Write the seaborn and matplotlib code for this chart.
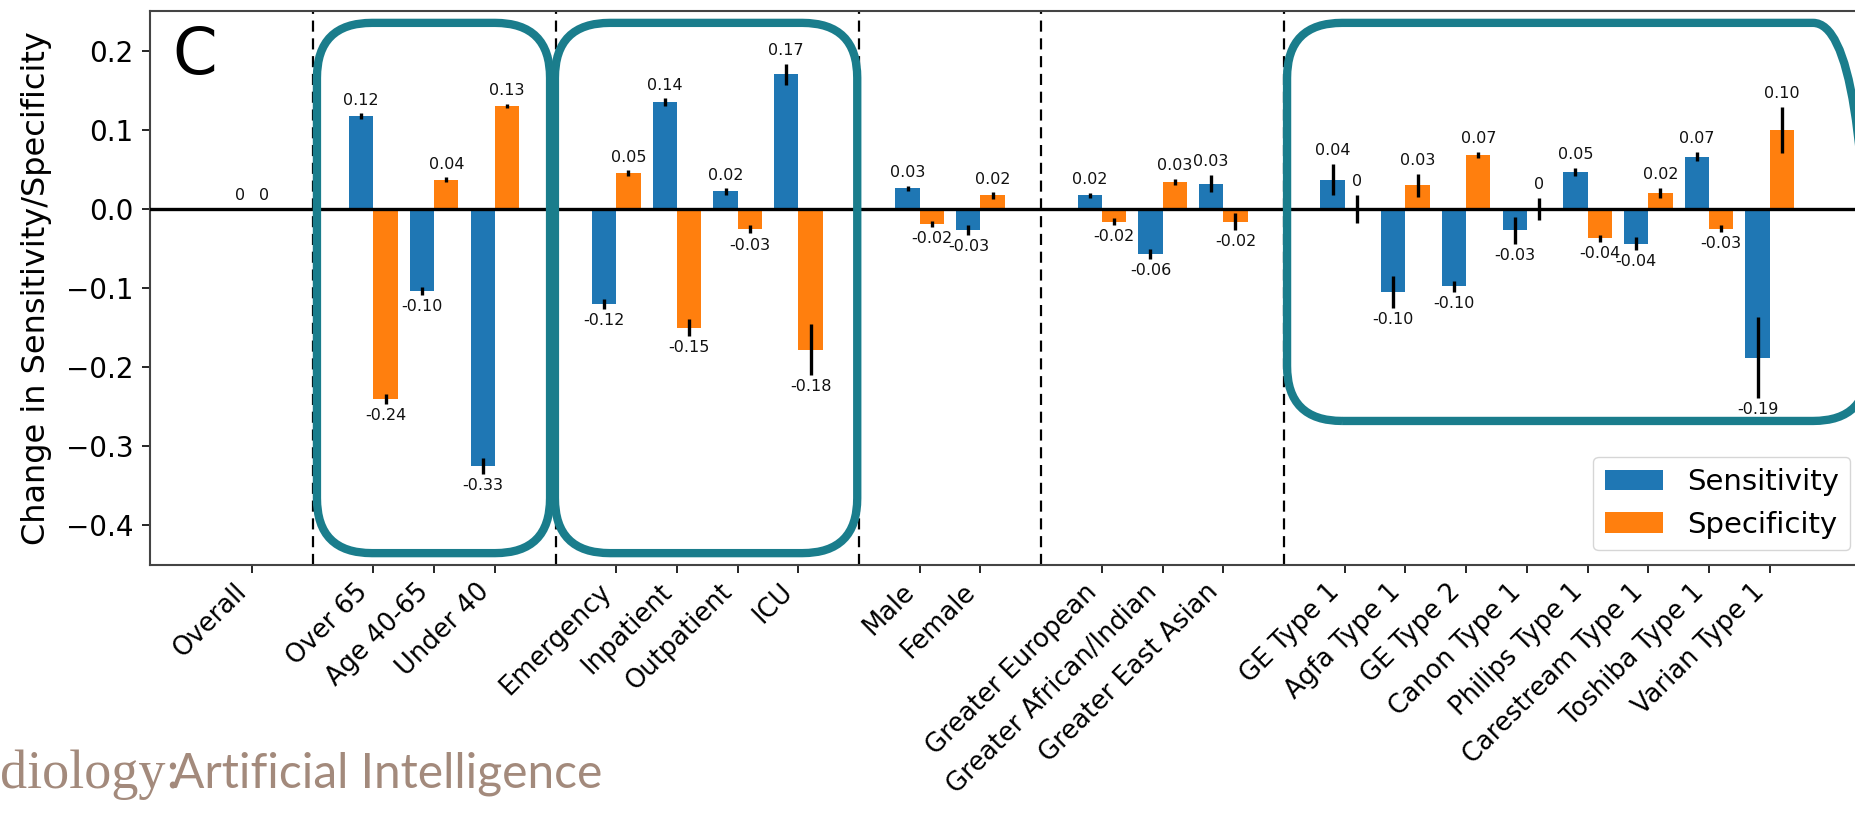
import matplotlib
matplotlib.use("Agg")
import matplotlib.pyplot as plt
from matplotlib.patches import FancyBboxPatch
from matplotlib.transforms import IdentityTransform
import seaborn as sns
import pandas as pd

# ---------------- data ----------------
categories = ["Overall",
              "Over 65", "Age 40-65", "Under 40",
              "Emergency", "Inpatient", "Outpatient", "ICU",
              "Male", "Female",
              "Greater European", "Greater African/Indian", "Greater East Asian",
              "GE Type 1", "Agfa Type 1", "GE Type 2", "Canon Type 1",
              "Philips Type 1", "Carestream Type 1", "Toshiba Type 1", "Varian Type 1"]
group_sizes = [1, 3, 4, 2, 3, 8]

sensitivity = [0.0,
               0.117, -0.104, -0.325,
               -0.120, 0.135, 0.022, 0.170,
               0.026, -0.027,
               0.017, -0.057, 0.032,
               0.037, -0.105, -0.098, -0.027,
               0.047, -0.044, 0.066, -0.188]
sens_err = [0.0,
            0.004, 0.005, 0.010,
            0.006, 0.005, 0.004, 0.013,
            0.0035, 0.006,
            0.0035, 0.006, 0.011,
            0.020, 0.020, 0.007, 0.017,
            0.005, 0.008, 0.006, 0.051]
sens_labels = ["0",
               "0.12", "-0.10", "-0.33",
               "-0.12", "0.14", "0.02", "0.17",
               "0.03", "-0.03",
               "0.02", "-0.06", "0.03",
               "0.04", "-0.10", "-0.10", "-0.03",
               "0.05", "-0.04", "0.07", "-0.19"]

specificity = [0.0,
               -0.240, 0.037, 0.130,
               0.045, -0.150, -0.026, -0.178,
               -0.019, 0.017,
               -0.016, 0.034, -0.016,
               0.0, 0.030, 0.068, 0.0,
               -0.037, 0.020, -0.025, 0.100]
spec_err = [0.0,
            0.006, 0.003, 0.003,
            0.004, 0.011, 0.005, 0.032,
            0.004, 0.004,
            0.004, 0.004, 0.011,
            0.018, 0.0145, 0.004, 0.014,
            0.0045, 0.0065, 0.004, 0.029]
spec_labels = ["0",
               "-0.24", "0.04", "0.13",
               "0.05", "-0.15", "-0.03", "-0.18",
               "-0.02", "0.02",
               "-0.02", "0.03", "-0.02",
               "0", "0.03", "0.07", "0",
               "-0.04", "0.02", "-0.03", "0.10"]

metrics = ["Sensitivity", "Specificity"]
colors = ["#1f77b4", "#ff7f0e"]
teal = "#1a7d8c"
logo_color = "#a38a7c"

# ---------------- build order with spacer slots between groups ----------------
order = []
k = 0
for gi, n in enumerate(group_sizes):
    if gi > 0:
        order.append(f"_gap{gi}")
    order.extend(categories[k:k + n])
    k += n
gap_slots = [i for i, c in enumerate(order) if c.startswith("_gap")]
cat_slots = [order.index(c) for c in categories]

df = pd.DataFrame({
    "category": categories * 2,
    "metric": [metrics[0]] * len(categories) + [metrics[1]] * len(categories),
    "value": sensitivity + specificity,
})
err_lookup = {(metrics[0], c): e for c, e in zip(categories, sens_err)}
err_lookup.update({(metrics[1], c): e for c, e in zip(categories, spec_err)})
lab_lookup = {(metrics[0], c): t for c, t in zip(categories, sens_labels)}
lab_lookup.update({(metrics[1], c): t for c, t in zip(categories, spec_labels)})

# ---------------- figure ----------------
W, H = 1855, 814
fig = plt.figure(figsize=(W / 100, H / 100), dpi=100)
ax = fig.add_axes([150 / W, 1 - 565 / H, (1865 - 150) / W, (565 - 11) / H])

sns.barplot(data=df, x="category", y="value", hue="metric", order=order,
            hue_order=metrics, palette=colors, errorbar=None, width=0.8,
            saturation=1, ax=ax)

ax.set_xlim(-1.68, 26.57)
ax.set_ylim(-0.45, 0.25)

# error bars and value labels
for container, metric in zip(ax.containers, metrics):
    for bar in container:
        xc = bar.get_x() + bar.get_width() / 2
        slot = int(round(xc))
        cat = order[slot]
        if cat.startswith("_gap"):
            continue
        v = bar.get_height()
        e = err_lookup[(metric, cat)]
        ax.errorbar(xc, v, yerr=e, fmt="none", ecolor="black", elinewidth=2.4,
                    capsize=0, zorder=4)
        up = v >= 0
        ax.annotate(lab_lookup[(metric, cat)], (xc, v + (e if up else -e)),
                    xytext=(0, 4 if up else -3), textcoords="offset points",
                    ha="center", va="bottom" if up else "top",
                    fontsize=11.5, color="#111111", zorder=5)

ax.axhline(0, color="black", lw=2.4, zorder=3)
for s in gap_slots:
    ax.axvline(s, color="black", ls=(0, (5, 3)), lw=1.6, zorder=1)

ax.set_xticks(cat_slots)
ax.set_xticklabels(categories, rotation=45, ha="right", fontsize=18.5)
ax.set_yticks([0.2, 0.1, 0.0, -0.1, -0.2, -0.3, -0.4])
ax.tick_params(axis="y", labelsize=20, length=6, width=1.2, pad=6)
ax.tick_params(axis="x", length=6, width=1.2, pad=4)
ax.set_xlabel("")
ax.set_ylabel("Change in Sensitivity/Specificity", fontsize=23, labelpad=10)
for sp in ax.spines.values():
    sp.set_color("#444444")
    sp.set_linewidth(1.5)

handles, labels = ax.get_legend_handles_labels()
ax.legend(handles, labels, loc="lower right", fontsize=21, frameon=True,
          borderaxespad=0.5, handlelength=2.0)

ax.text(0.0128, 0.919, "C", transform=ax.transAxes, fontsize=46,
        va="center", ha="left")

# ---------------- highlight boxes (rounded teal outlines) ----------------
boxes = [(1.07, 4.91, -0.435, 0.235),
         (4.99, 9.97, -0.435, 0.235),
         (17.05, 26.62, -0.268, 0.235)]
for x0, x1, y0, y1 in boxes:
    (px0, py0) = ax.transData.transform((x0, y0))
    (px1, py1) = ax.transData.transform((x1, y1))
    p = FancyBboxPatch((px0, py0), px1 - px0, py1 - py0,
                       boxstyle="round,pad=0,rounding_size=55",
                       transform=IdentityTransform(), fill=False,
                       edgecolor=teal, linewidth=6.0, zorder=10)
    fig.add_artist(p)

# ---------------- journal logo text ----------------
fig.text(0, (H - 788) / H, "diology:", family="Liberation Serif", fontsize=39,
         color=logo_color, va="baseline", ha="left")
fig.text(172 / W, (H - 788) / H, "Artificial Intelligence", family="Lato",
         fontweight="normal", fontsize=34.5, color=logo_color, va="baseline",
         ha="left")

fig.savefig("out.png", dpi=100)
